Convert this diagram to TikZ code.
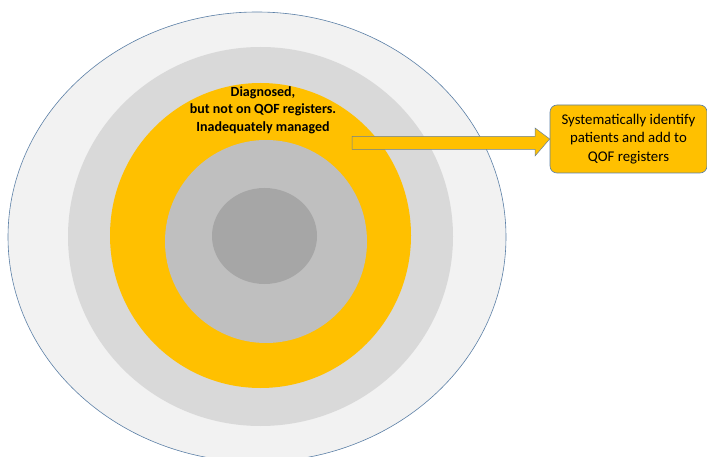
\documentclass[tikz,border=0pt]{standalone}
\usepackage{fontspec}
\setmainfont{Carlito}
\definecolor{ringA}{HTML}{F2F2F2}
\definecolor{ringB}{HTML}{D9D9D9}
\definecolor{ringY}{HTML}{FFC000}
\definecolor{ringC}{HTML}{BFBFBF}
\definecolor{ringD}{HTML}{A6A6A6}
\definecolor{edgeblue}{HTML}{5B7FA6}
\begin{document}
\begin{tikzpicture}[x=1pt,y=-1pt,
  lbl/.style={align=center,font=\bfseries\fontsize{14}{17.5}\selectfont,text=black},
  actbox/.style={draw=edgeblue,line width=0.6pt,fill=ringY,rounded corners=7pt,
    align=center,font=\fontsize{14.8}{18.5}\selectfont,inner sep=0pt,
    minimum width=157pt,minimum height=68pt}]
\useasboundingbox (0,0) rectangle (707,457);
\begin{scope}
\clip (0,0) rectangle (707,457);
\fill[ringA,draw=edgeblue,line width=0.6pt] (257,237) ellipse [x radius=249,y radius=225];
\fill[ringB] (260.5,236.5) ellipse [x radius=192.5,y radius=189.5];
\fill[ringY] (260.5,235.5) ellipse [x radius=150.5,y radius=152.5];
\fill[ringC] (266,241.5) ellipse [x radius=101,y radius=101.5];
\fill[ringD] (264.5,236) ellipse [x radius=52.5,y radius=48];
\end{scope}
\node[lbl] (diag) at (263,110) {Diagnosed,\\but not on QOF registers.\\Inadequately managed};
\node[actbox] (box) at (628.5,139) {Systematically identify\\patients and add to\\QOF registers};
\draw[draw=edgeblue!70!gray,line width=0.5pt,fill=ringY]
  (352,136.5) -- (535,136.5) -- (535,128) -- (box.west) -- (535,156) -- (535,149.5) -- (352,149.5) -- cycle;
\end{tikzpicture}
\end{document}
